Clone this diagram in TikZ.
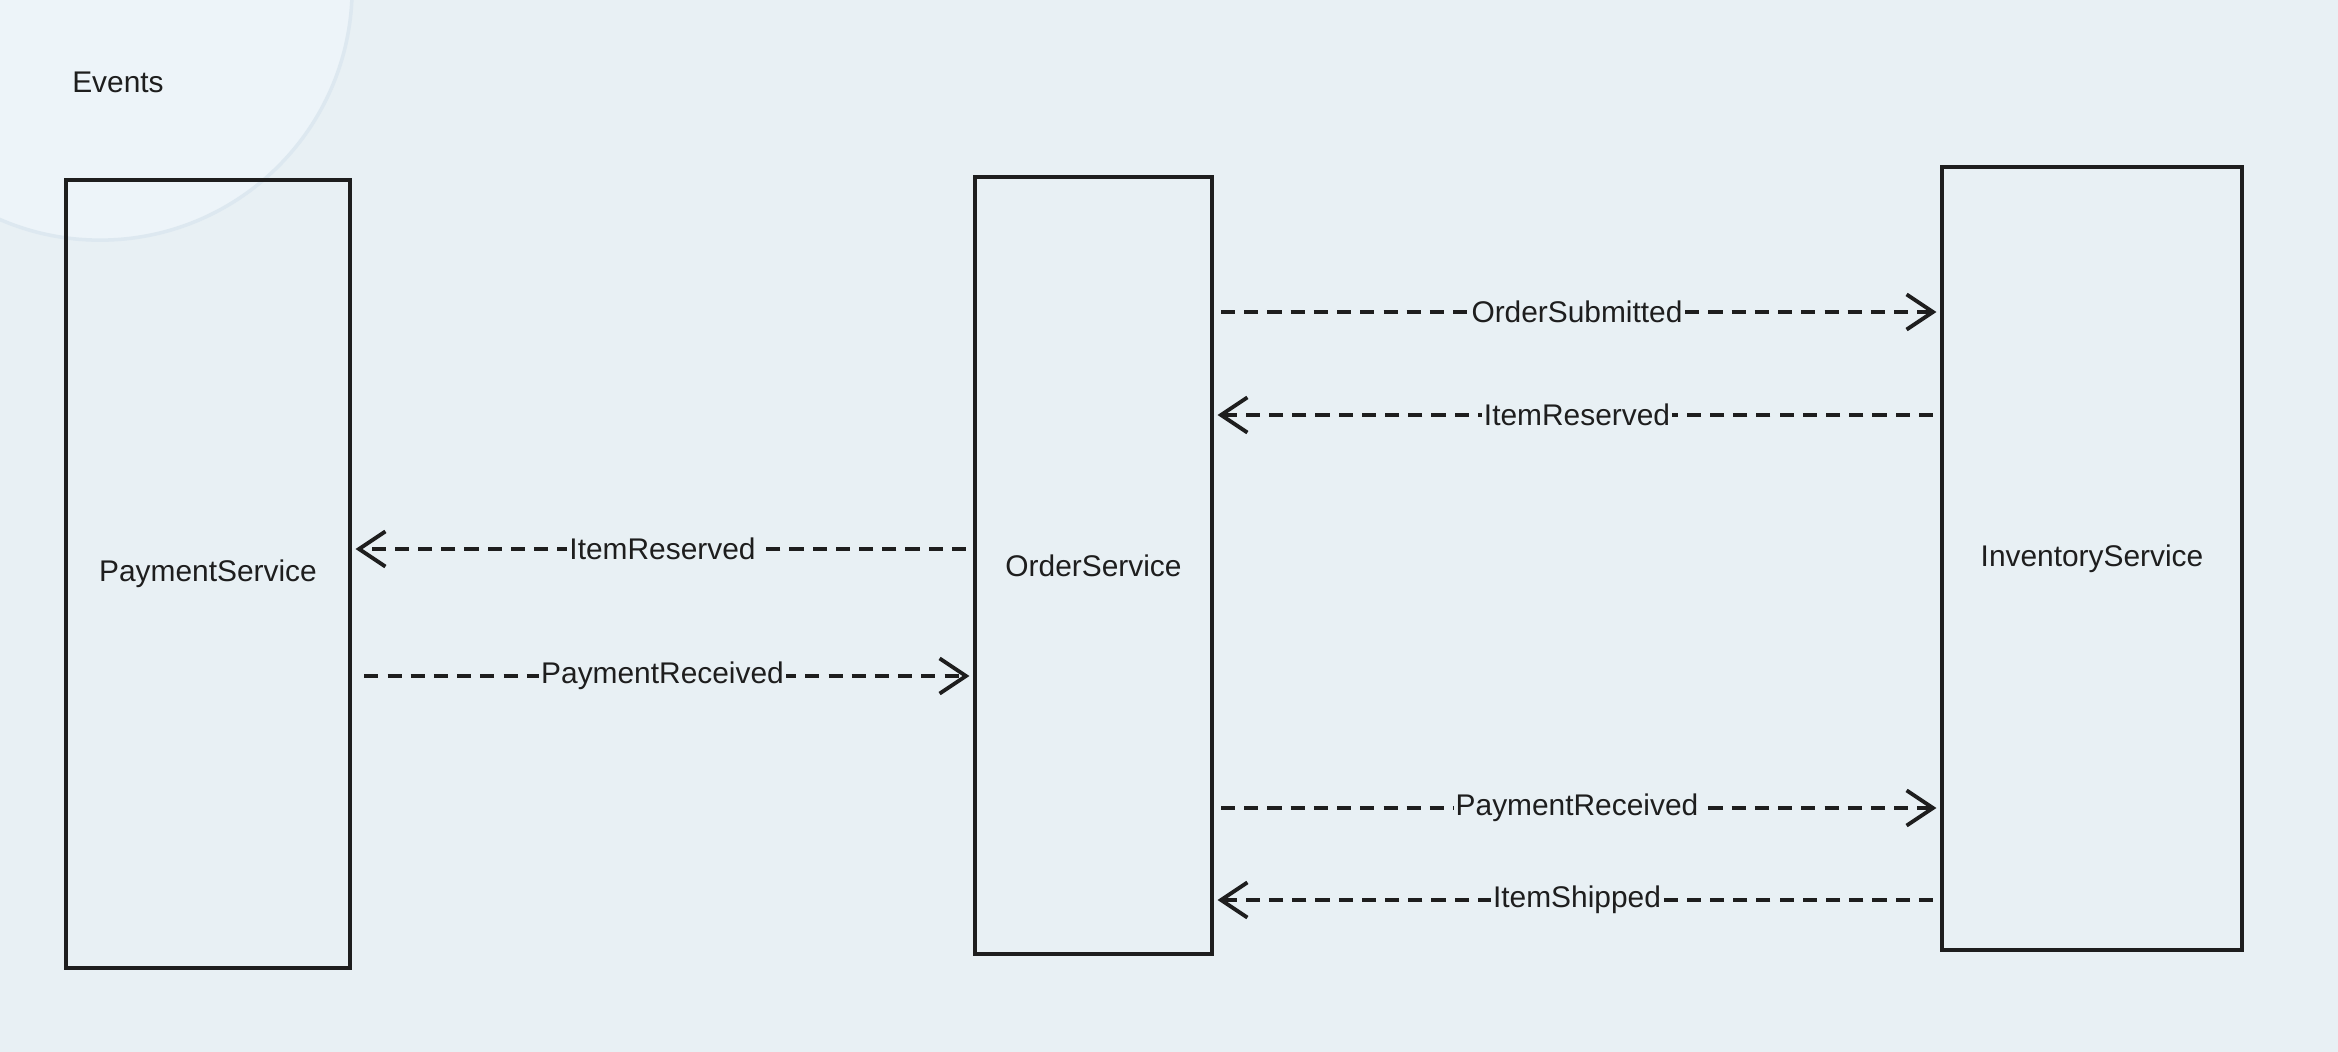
\documentclass[tikz,border=0pt]{standalone}
\usepackage{fontspec}
\setmainfont{Liberation Sans}
\usetikzlibrary{arrows.meta}
\definecolor{bgc}{HTML}{E8F0F4}
\definecolor{circc}{HTML}{EDF4F9}
\definecolor{rimc}{HTML}{DDE8F0}
\definecolor{ink}{HTML}{1E1E1E}
\begin{document}
\begin{tikzpicture}[x=0.01cm,y=-0.01cm,
  txt/.style={font=\fontsize{8.5}{10}\selectfont, text=ink},
  svc/.style={draw=ink, line width=1.1pt, inner sep=0pt, txt},
  evt/.style={draw=ink, line width=1.1pt, dash pattern=on 4pt off 2.6pt,
    -{Straight Barb[length=7.5pt,width=10pt,line width=1.1pt]}, shorten <=2pt, shorten >=1pt},
  lbl/.style={fill=bgc, inner sep=0.6pt, txt}]
\fill[bgc] (0,0) rectangle (2338,1052);
\useasboundingbox (0,0) rectangle (2338,1052);
\begin{scope}
\clip (0,0) rectangle (2338,1052);
\fill[circc] (100,-12) circle (2.52cm);
\draw[rimc, line width=1pt] (100,-12) circle (2.52cm);
\end{scope}
\node[txt] (ev) at (118,82) {Events};
\node[svc, minimum width=2.84cm, minimum height=7.88cm] (pay) at (208,574) {PaymentService};
\node[svc, minimum width=2.37cm, minimum height=7.77cm] (ord) at (1093.5,565.5) {OrderService};
\node[svc, minimum width=3.00cm, minimum height=7.83cm] (inv) at (2092,558.5) {InventoryService};
\coordinate (l1) at (0,312);
\coordinate (l2) at (0,415);
\coordinate (l3) at (0,549);
\coordinate (l4) at (0,676);
\coordinate (l5) at (0,808);
\coordinate (l6) at (0,900);
\draw[evt] (ord.east |- l1) -- node[lbl]{OrderSubmitted} (inv.west |- l1);
\draw[evt] (inv.west |- l2) -- node[lbl]{ItemReserved} (ord.east |- l2);
\draw[evt] (ord.west |- l3) -- node[lbl]{ItemReserved} (pay.east |- l3);
\draw[evt, shorten <=3.5pt] (pay.east |- l4) -- node[lbl]{PaymentReceived} (ord.west |- l4);
\draw[evt] (ord.east |- l5) -- node[lbl]{PaymentReceived} (inv.west |- l5);
\draw[evt] (inv.west |- l6) -- node[lbl]{ItemShipped} (ord.east |- l6);
\end{tikzpicture}
\end{document}
